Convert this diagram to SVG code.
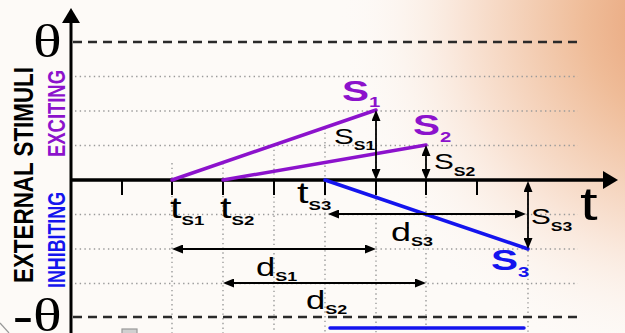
<svg xmlns="http://www.w3.org/2000/svg" width="625" height="333" viewBox="0 0 625 333">
<defs>
<radialGradient id="bgGrad" gradientUnits="userSpaceOnUse" cx="690" cy="20" r="350">
<stop offset="0" stop-color="#e69b70"/>
<stop offset="0.3" stop-color="#efbc98"/>
<stop offset="0.65" stop-color="#f9e4d6"/>
<stop offset="1" stop-color="#fdfaf7" stop-opacity="0"/>
</radialGradient>
<marker id="head" viewBox="0 0 11 9" refX="0" refY="4.5" markerWidth="11" markerHeight="9" markerUnits="userSpaceOnUse" orient="auto-start-reverse">
<path d="M0,0 L11,4.5 L0,9 z" fill="#000"/>
</marker>
<marker id="axisHead" viewBox="0 0 15 18" refX="0" refY="9" markerWidth="15" markerHeight="18" markerUnits="userSpaceOnUse" orient="auto">
<path d="M0,0 L15,9 L0,18 z" fill="#000"/>
</marker>
</defs>
<style>
.dot{stroke:#9a9a9a;stroke-width:1.4;stroke-dasharray:1.4 3.3;fill:none}
.dash{stroke:#2a2a2a;stroke-width:2.4;stroke-dasharray:9 6;fill:none}
.axis{stroke:#000;fill:none}
.tick{stroke:#000;stroke-width:2}
.meas{stroke:#000;stroke-width:1.8;fill:none;marker-start:url(#head);marker-end:url(#head)}
.exc{stroke:#8c12cc;stroke-width:3.5;fill:none;stroke-linecap:round}
.inh{stroke:#1414ee;stroke-width:3.5;fill:none;stroke-linecap:round}
text{font-family:"Liberation Sans",Arial,sans-serif;fill:#000}
.ser{font-family:"Liberation Serif","Times New Roman",serif}
.sub{font-weight:bold}
.purple{fill:#8c12cc}
.blue{fill:#1414ee}
.side{font-weight:bold}
</style>
<rect x="0" y="0" width="625" height="333" fill="#fdfaf7"/>
<rect x="0" y="0" width="625" height="333" fill="url(#bgGrad)"/>
<g id="slide-bits" fill="none" stroke="#999" stroke-width="1.2">
<line x1="0" y1="323" x2="9" y2="333"/>
<rect x="122" y="329" width="15" height="6" fill="#d0d0d0"/>
</g>
<g id="grid">
<line class="dot" x1="75" y1="76.5" x2="578" y2="76.5"/>
<line class="dot" x1="75" y1="111" x2="578" y2="111"/>
<line class="dot" x1="75" y1="145.5" x2="578" y2="145.5"/>
<line class="dot" x1="75" y1="214.5" x2="578" y2="214.5"/>
<line class="dot" x1="75" y1="249" x2="578" y2="249"/>
<line class="dot" x1="75" y1="283.5" x2="578" y2="283.5"/>
<line class="dot" x1="172" y1="163" x2="172" y2="333"/>
<line class="dot" x1="223" y1="163" x2="223" y2="333"/>
<line class="dot" x1="274" y1="145" x2="274" y2="333"/>
<line class="dot" x1="325" y1="128" x2="325" y2="333"/>
<line class="dot" x1="376" y1="110" x2="376" y2="333"/>
<line class="dot" x1="426" y1="145" x2="426" y2="333"/>
<line class="dot" x1="528" y1="180" x2="528" y2="333"/>
<line class="dash" x1="73" y1="42" x2="577" y2="42"/>
<line class="dash" x1="73" y1="317" x2="577" y2="317"/>
</g>
<g id="axes">
<line class="axis" stroke-width="3" x1="71" y1="333" x2="71" y2="23" marker-end="url(#axisHead)"/>
<line class="axis" stroke-width="3.5" x1="70" y1="180" x2="603" y2="180" marker-end="url(#axisHead)"/>
<line class="tick" x1="122" y1="180" x2="122" y2="195"/>
<line class="tick" x1="172" y1="180" x2="172" y2="195"/>
<line class="tick" x1="223" y1="180" x2="223" y2="195"/>
<line class="tick" x1="274" y1="180" x2="274" y2="195"/>
<line class="tick" x1="325" y1="180" x2="325" y2="195"/>
<line class="tick" x1="376" y1="180" x2="376" y2="195"/>
<line class="tick" x1="426" y1="180" x2="426" y2="195"/>
<line class="tick" x1="477" y1="180" x2="477" y2="195"/>
</g>
<g id="connectors">
<line class="exc" x1="172" y1="180" x2="376" y2="110"/>
<line class="exc" x1="223" y1="180" x2="426" y2="145"/>
<line class="inh" x1="325" y1="180" x2="528" y2="249"/>
<line class="inh" x1="330" y1="328" x2="524" y2="328"/>
<line class="meas" x1="376" y1="121" x2="376" y2="169"/>
<line class="meas" x1="426" y1="156" x2="426" y2="169"/>
<line class="meas" x1="528" y1="192" x2="528" y2="238"/>
<line class="meas" x1="339" y1="214" x2="515" y2="214"/>
<line class="meas" x1="183" y1="249" x2="365" y2="249"/>
<line class="meas" x1="234" y1="283" x2="415" y2="283"/>
</g>
<g id="label-theta" transform="translate(33,57) scale(1.3,1)"><text class="ser" font-size="46">θ</text></g>
<g id="label-neg-theta" transform="translate(13,331) scale(1.3,1)"><text class="ser" font-size="46"><tspan font-weight="bold">-</tspan>θ</text></g>
<g id="label-external" transform="translate(33,175) scale(1.3,1) rotate(-90)"><text class="side" font-size="21" text-anchor="middle" textLength="216" lengthAdjust="spacingAndGlyphs">EXTERNAL STIMULI</text></g>
<g id="label-exciting" transform="translate(65,113.5) scale(1.28,1) rotate(-90)"><text class="side purple" font-size="18" text-anchor="middle" textLength="87" lengthAdjust="spacingAndGlyphs">EXCITING</text></g>
<g id="label-inhibiting" transform="translate(65,240) scale(1.28,1) rotate(-90)"><text class="side blue" font-size="18" text-anchor="middle" textLength="96" lengthAdjust="spacingAndGlyphs">INHIBITING</text></g>
<g id="label-t" transform="translate(580,220) scale(1.38,1)"><text font-size="46">t</text></g>
<g id="label-S1" transform="translate(342,101) scale(1.35,1)"><text class="purple" font-size="30" font-weight="bold">S<tspan font-size="15" dy="6">1</tspan></text></g>
<g id="label-S2" transform="translate(413,135) scale(1.35,1)"><text class="purple" font-size="30" font-weight="bold">S<tspan font-size="15" dy="7">2</tspan></text></g>
<g id="label-S3" transform="translate(491,270) scale(1.35,1)"><text class="blue" font-size="30" font-weight="bold">S<tspan font-size="15" dy="7">3</tspan></text></g>
<g id="label-sS1" transform="translate(334,144) scale(1.35,1)"><text font-size="22">S<tspan class="sub" font-size="13" dy="6">S1</tspan></text></g>
<g id="label-sS2" transform="translate(434,169) scale(1.35,1)"><text font-size="22">S<tspan class="sub" font-size="13" dy="7">S2</tspan></text></g>
<g id="label-sS3" transform="translate(531,224) scale(1.35,1)"><text font-size="22">S<tspan class="sub" font-size="13" dy="7">S3</tspan></text></g>
<g id="label-tS1" transform="translate(170,218) scale(1.38,1)"><text font-size="30">t<tspan class="sub" font-size="13.5" dy="7">S1</tspan></text></g>
<g id="label-tS2" transform="translate(220,218) scale(1.38,1)"><text font-size="30">t<tspan class="sub" font-size="13.5" dy="7">S2</tspan></text></g>
<g id="label-tS3" transform="translate(297,203) scale(1.38,1)"><text font-size="30">t<tspan class="sub" font-size="13.5" dy="7">S3</tspan></text></g>
<g id="label-dS1" transform="translate(256,276) scale(1.38,1)"><text font-size="25">d<tspan class="sub" font-size="13" dy="5">S1</tspan></text></g>
<g id="label-dS2" transform="translate(306,309) scale(1.38,1)"><text font-size="25">d<tspan class="sub" font-size="13" dy="5">S2</tspan></text></g>
<g id="label-dS3" transform="translate(391,241) scale(1.38,1)"><text font-size="26">d<tspan class="sub" font-size="13" dy="5">S3</tspan></text></g>
</svg>
